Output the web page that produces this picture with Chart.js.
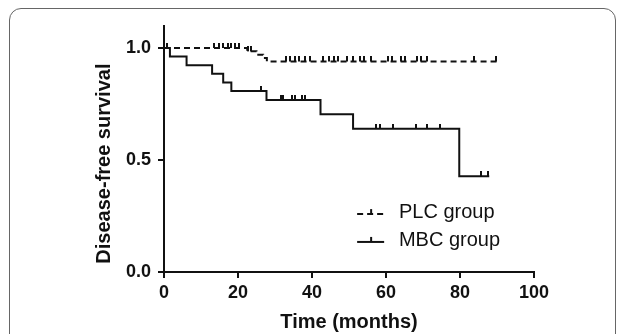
<!DOCTYPE html>
<html>
<head>
<meta charset="utf-8">
<script src="https://cdn.jsdelivr.net/npm/chart.js@4.4.0/dist/chart.umd.min.js"></script>
<style>
  html, body { margin: 0; padding: 0; background: #fff; overflow: hidden; }
  #frame { position: absolute; left: 9px; top: 8px; width: 605px; height: 400px; border: 1px solid #666; border-radius: 12px; }
  #myChart { position: absolute; left: 0; top: 0; }
</style>
</head>
<body>
<div id="frame"></div>
<canvas id="myChart" width="623" height="334"></canvas>
<script>
// Kaplan-Meier steps (time in months, survival after the event)
const plcTimes = [0, 22.5, 25, 26.8, 27.8, 90];
const plcSurvival = [1, 0.985, 0.970, 0.955, 0.940, 0.940];
const plcCensored = [0.8, 13.5, 14.8, 16, 17.2, 18, 19.3, 20.2, 22.8, 23.6,
    33, 34, 35.5, 36.5, 38, 39.5, 43, 44.5, 46, 47, 49.5, 51, 53, 54, 56,
    60.5, 61.5, 64, 65, 68.5, 69.5, 71, 83.8, 89.8];

const mbcTimes = [0, 1.6, 6.1, 13.0, 16.0, 18.2, 27.7, 42.3, 51.1, 79.8, 87.9];
const mbcSurvival = [1, 0.962, 0.923, 0.885, 0.846, 0.808, 0.768, 0.704, 0.640, 0.427, 0.427];
const mbcCensored = [26.1, 31.5, 32.2, 34.6, 35.3, 37.3, 38.0, 57.4, 58.3, 62.0,
    68.2, 71.0, 74.6, 85.7, 87.5];

const legendLabels = ['PLC group', 'MBC group'];
const yTicks = [0, 0.5, 1.0];
const yTitle = 'Disease-free survival';

function survivalAt(times, surv, t) {
    let s = surv[0];
    for (let i = 0; i < times.length; i++) {
        if (times[i] <= t) s = surv[i];
    }
    return s;
}

function censorMark() {
    const c = document.createElement('canvas');
    c.width = 2;
    c.height = 10;
    const g = c.getContext('2d');
    g.fillStyle = '#111';
    g.fillRect(0, 0, 2, 5);
    return c;
}
const tick = censorMark();

const toPoints = (times, surv) => times.map((t, i) => ({ x: t, y: surv[i] }));
const toCensor = (list, times, surv) => list.map(t => ({ x: t, y: survivalAt(times, surv, t) }));

Chart.defaults.font.family = '"Liberation Sans", Arial, sans-serif';
Chart.defaults.color = '#111';

// legend sits inside the plot, lower right; y title is set a bit low like the original
const insideLegend = {
    id: 'insideLegend',
    afterDatasetsDraw(chart) {
        const { ctx, chartArea } = chart;
        const x0 = chartArea.left + chartArea.width * 0.522;
        const len = 27;
        const tx = chartArea.left + chartArea.width * 0.635;
        const rows = [
            { y: chartArea.top + chartArea.height * 0.765, dash: [6, 4] },
            { y: chartArea.top + chartArea.height * 0.878, dash: [] }
        ];
        ctx.save();
        rows.forEach((r, i) => {
            ctx.strokeStyle = '#111';
            ctx.lineWidth = 2;
            ctx.setLineDash(r.dash);
            ctx.beginPath();
            ctx.moveTo(x0, r.y);
            ctx.lineTo(x0 + len, r.y);
            ctx.stroke();
            ctx.setLineDash([]);
            ctx.fillStyle = '#111';
            ctx.fillRect(x0 + 13, r.y - 5, 2, 5);
            ctx.font = '20px "Liberation Sans", Arial, sans-serif';
            ctx.textBaseline = 'middle';
            ctx.textAlign = 'left';
            ctx.fillText(legendLabels[i], tx, r.y - 1.5);
        });

        ctx.translate(chartArea.left - 60, chartArea.top + chartArea.height * 0.56);
        ctx.rotate(-Math.PI / 2);
        ctx.font = 'bold 20px "Liberation Sans", Arial, sans-serif';
        ctx.textAlign = 'center';
        ctx.textBaseline = 'middle';
        ctx.fillText(yTitle, 0, 0);
        ctx.restore();
    }
};

const data = {
    datasets: [{
        label: legendLabels[0],
        data: toPoints(plcTimes, plcSurvival),
        stepped: true,
        borderColor: '#111',
        borderWidth: 2,
        borderDash: [6, 4],
        pointRadius: 0
    }, {
        label: legendLabels[0] + ' censored',
        data: toCensor(plcCensored, plcTimes, plcSurvival),
        showLine: false,
        pointStyle: tick,
        pointRadius: 3
    }, {
        label: legendLabels[1],
        data: toPoints(mbcTimes, mbcSurvival),
        stepped: true,
        borderColor: '#111',
        borderWidth: 2,
        pointRadius: 0
    }, {
        label: legendLabels[1] + ' censored',
        data: toCensor(mbcCensored, mbcTimes, mbcSurvival),
        showLine: false,
        pointStyle: tick,
        pointRadius: 3
    }]
};

const config = {
    type: 'line',
    data: data,
    options: {
        responsive: false,
        animation: false,
        devicePixelRatio: 1,
        layout: { padding: { left: 92, right: 89, top: 25.6, bottom: 0 } },
        plugins: { legend: { display: false }, tooltip: { enabled: false } },
        scales: {
            x: {
                type: 'linear',
                min: 0,
                max: 100,
                afterFit: s => { s.height = 62; },
                grid: { drawOnChartArea: false, color: '#111', lineWidth: 2, tickLength: 6 },
                border: { color: '#111', width: 2 },
                ticks: { stepSize: 20, padding: 4, font: { size: 18, weight: 'bold' }, maxRotation: 0 },
                title: { display: true, text: 'Time (months)', padding: 0, font: { size: 20, weight: 'bold' } }
            },
            y: {
                type: 'linear',
                min: 0,
                max: 1.1,
                afterFit: s => { s.width = 72; },
                afterBuildTicks: s => { s.ticks = yTicks.map(v => ({ value: v })); },
                grid: { drawOnChartArea: false, color: '#111', lineWidth: 2, tickLength: 6 },
                border: { color: '#111', width: 2 },
                ticks: { padding: 7, font: { size: 18, weight: 'bold' }, callback: v => v.toFixed(1) }
            }
        }
    },
    plugins: [insideLegend]
};

const myChart = new Chart(document.getElementById('myChart'), config);
</script>
</body>
</html>
